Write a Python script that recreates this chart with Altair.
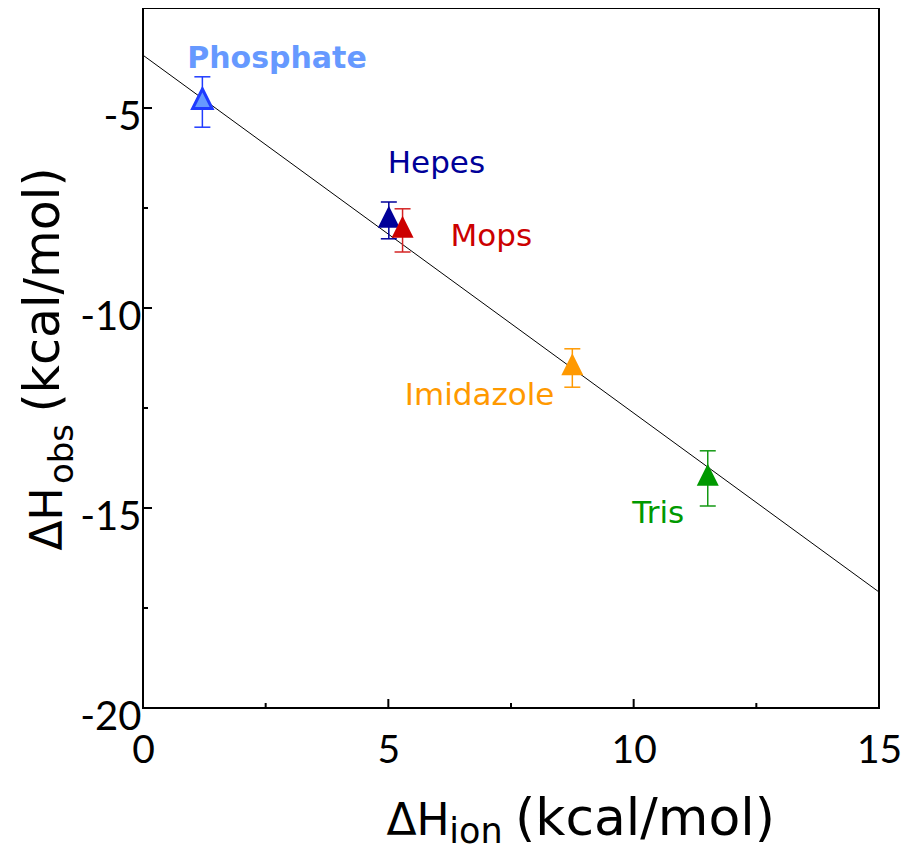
import altair as alt
import pandas as pd

# ---- data ----
buffers = ["Phosphate", "Hepes", "Mops", "Imidazole", "Tris"]
dh_ion = [1.21, 5.01, 5.29, 8.75, 11.51]
dh_obs = [-4.85, -7.81, -8.06, -11.50, -14.26]
err = [0.63, 0.46, 0.54, 0.48, 0.69]
label_x = [2.73, 5.98, 7.10, 6.86, 10.50]
label_y = [-4.00, -6.63, -8.45, -12.43, -15.38]
fit_x = [0, 15]
fit_y = [-3.68, -17.10]
x_major = [5, 10]
x_minor = [2.5, 7.5, 12.5]
y_major = [-5, -10, -15]
y_minor = [-7.5, -12.5, -17.5]

# ---- styles ----
fill_colors = ["#6699FF", "#000099", "#CC0000", "#FF9900", "#009900"]
stroke_colors = ["#1F3BFF", "#000099", "#D42424", "#FF9900", "#139913"]
W, H = 736, 700
TRI = "M0,-1.333L1,0.667L-1,0.667Z"
TITLE_FONT = "DejaVu Sans"
TICK_FONT = "Lato"

df = pd.DataFrame({
    "buffer": buffers,
    "dh_ion": dh_ion,
    "dh_obs": dh_obs,
    "lo": [o - e for o, e in zip(dh_obs, err)],
    "hi": [o + e for o, e in zip(dh_obs, err)],
    "lx": label_x,
    "ly": label_y,
})
fit = pd.DataFrame({"x": fit_x, "y": fit_y})

xs = alt.Scale(domain=[0, 15], nice=False, zero=False)
ys = alt.Scale(domain=[-20, -2.5], nice=False, zero=False)
fill_scale = alt.Scale(domain=buffers, range=fill_colors)
stroke_scale = alt.Scale(domain=buffers, range=stroke_colors)

xaxis = alt.Axis(values=[0, 5, 10, 15], title=None, grid=False, ticks=False, tickSize=0,
                 domain=False, labelFont=TICK_FONT, labelFontSize=39, labelColor="black",
                 labelPadding=23, labelFlush=False, labelOverlap=False,
                 labelExpr="datum.value + ''")
yaxis = alt.Axis(values=[-5, -10, -15, -20], title=None, grid=False, ticks=False, tickSize=0,
                 domain=False, labelFont=TICK_FONT, labelFontSize=40, labelColor="black",
                 labelPadding=2, labelFlush=False, labelOverlap=False,
                 labelBaseline="alphabetic", labelOffset=21,
                 labelExpr="datum.value + ''")

base = alt.Chart(df)

line = alt.Chart(fit).mark_line(color="black", strokeWidth=1, clip=True).encode(
    x=alt.X("x:Q", scale=xs, axis=xaxis),
    y=alt.Y("y:Q", scale=ys, axis=yaxis),
)

err_rule = base.mark_rule(strokeWidth=1.5).encode(
    x=alt.X("dh_ion:Q", scale=xs),
    y=alt.Y("lo:Q", scale=ys),
    y2="hi:Q",
    stroke=alt.Stroke("buffer:N", scale=stroke_scale, legend=None),
)
cap_hi = base.mark_rule(strokeWidth=1.5, xOffset=-8, x2Offset=8).encode(
    x=alt.X("dh_ion:Q", scale=xs),
    x2="dh_ion:Q",
    y=alt.Y("hi:Q", scale=ys),
    stroke=alt.Stroke("buffer:N", scale=stroke_scale, legend=None),
)
cap_lo = base.mark_rule(strokeWidth=1.5, xOffset=-8, x2Offset=8).encode(
    x=alt.X("dh_ion:Q", scale=xs),
    x2="dh_ion:Q",
    y=alt.Y("lo:Q", scale=ys),
    stroke=alt.Stroke("buffer:N", scale=stroke_scale, legend=None),
)

pts_other = base.transform_filter(alt.datum.buffer != "Phosphate").mark_point(
    shape=TRI, filled=True, size=484, opacity=1, strokeWidth=0
).encode(
    x=alt.X("dh_ion:Q", scale=xs),
    y=alt.Y("dh_obs:Q", scale=ys),
    fill=alt.Fill("buffer:N", scale=fill_scale, legend=None),
)
pts_phos = base.transform_filter(alt.datum.buffer == "Phosphate").mark_point(
    shape=TRI, filled=True, size=380, opacity=1, strokeWidth=3, strokeJoin="miter"
).encode(
    x=alt.X("dh_ion:Q", scale=xs),
    y=alt.Y("dh_obs:Q", scale=ys),
    fill=alt.Fill("buffer:N", scale=fill_scale, legend=None),
    stroke=alt.Stroke("buffer:N", scale=stroke_scale, legend=None),
)

lab_bold = base.transform_filter(alt.datum.buffer == "Phosphate").mark_text(
    font=TITLE_FONT, fontSize=30, fontWeight="bold", align="center", baseline="alphabetic"
).encode(
    x=alt.X("lx:Q", scale=xs), y=alt.Y("ly:Q", scale=ys), text="buffer:N",
    fill=alt.Fill("buffer:N", scale=fill_scale, legend=None),
)
lab_norm = base.transform_filter(alt.datum.buffer != "Phosphate").mark_text(
    font=TITLE_FONT, fontSize=31, align="center", baseline="alphabetic"
).encode(
    x=alt.X("lx:Q", scale=xs), y=alt.Y("ly:Q", scale=ys), text="buffer:N",
    fill=alt.Fill("buffer:N", scale=fill_scale, legend=None),
)

# inward ticks
def xticks(vals, length):
    return alt.Chart(pd.DataFrame({"v": vals})).mark_rule(color="black", strokeWidth=2).encode(
        x=alt.X("v:Q", scale=xs), y=alt.value(H), y2=alt.value(H - length))

def yticks(vals, length):
    return alt.Chart(pd.DataFrame({"v": vals})).mark_rule(color="black", strokeWidth=2).encode(
        y=alt.Y("v:Q", scale=ys), x=alt.value(0), x2=alt.value(length))

def txt(s, x, y, size, angle=0):
    kw = dict(text=s, font=TITLE_FONT, fontSize=size, align="center",
              baseline="alphabetic", color="black")
    if angle:
        kw["angle"] = angle
    return alt.Chart(pd.DataFrame({"a": [0]})).mark_text(**kw).encode(
        x=alt.value(x), y=alt.value(y))

titles = [
    # x-axis title: ΔH_ion (kcal/mol)
    txt("ΔH", 275, 827, 44),
    txt("ion", 333, 835, 35),
    txt("(kcal/mol)", 502, 827, 52),
    # y-axis title: ΔH_obs (kcal/mol)
    txt("ΔH", -81, 511, 44, 270),
    txt("obs", -70, 446, 34, 270),
    txt("(kcal/mol)", -84, 282, 49, 270),
]

chart = alt.layer(
    line, err_rule, cap_hi, cap_lo, pts_other, pts_phos, lab_bold, lab_norm,
    xticks(x_major, 9), xticks(x_minor, 5), yticks(y_major, 9), yticks(y_minor, 5),
    *titles,
).properties(
    width=W, height=H,
    autosize=alt.AutoSizeParams(type="none"),
    padding={"left": 135, "top": 0, "right": 23, "bottom": 143},
).configure_view(stroke="black", strokeWidth=2)

chart.save("out.html", embed_options={"renderer": "svg", "actions": False})
